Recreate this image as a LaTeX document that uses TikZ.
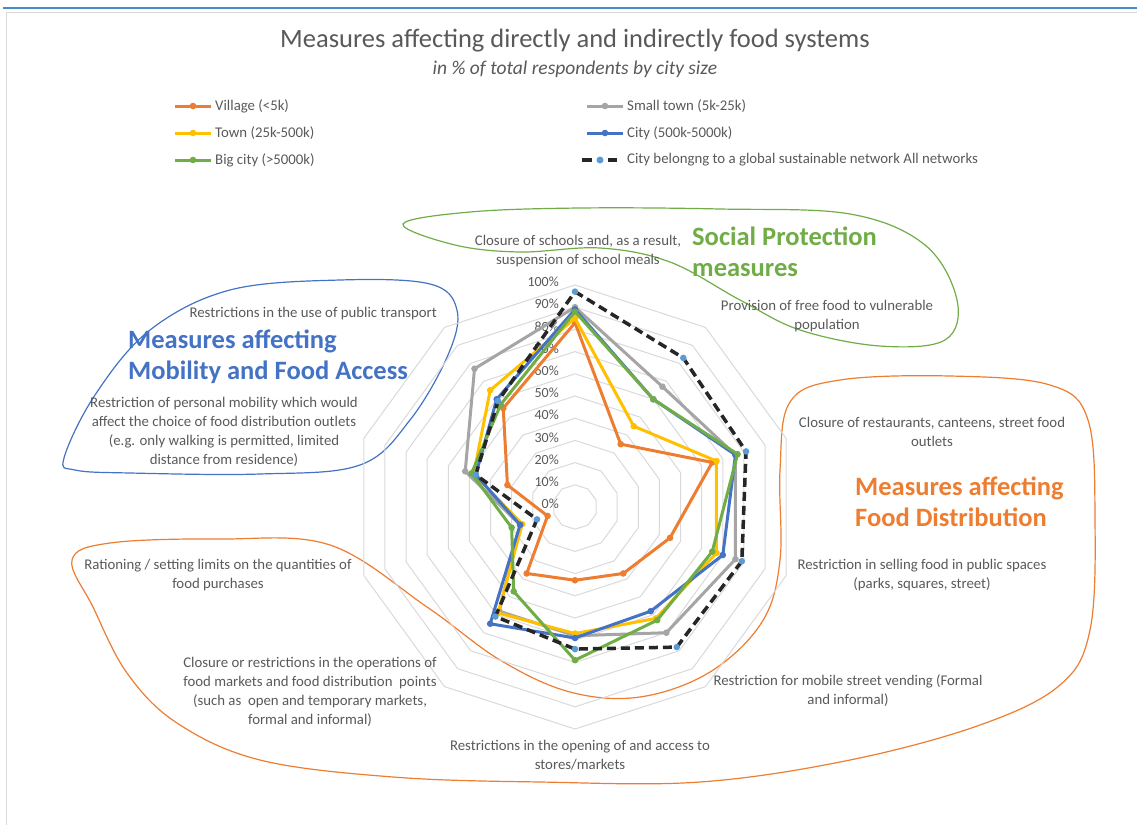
\documentclass[tikz,border=0pt]{standalone}
\usepackage{fontspec}
\setmainfont{Carlito}
\usetikzlibrary{positioning}

\definecolor{txtgray}{RGB}{89,89,89}
\definecolor{ringgray}{RGB}{217,217,217}
\definecolor{xlorange}{RGB}{237,125,49}
\definecolor{xlgray}{RGB}{165,165,165}
\definecolor{xlyellow}{RGB}{255,192,0}
\definecolor{xlblue}{RGB}{68,114,196}
\definecolor{xlgreen}{RGB}{112,173,71}
\definecolor{xllightblue}{RGB}{91,155,213}
\definecolor{dashblack}{RGB}{38,38,38}
\definecolor{topblue}{RGB}{70,140,200}

\tikzset{
  charttitle/.style={text=txtgray, font=\fontsize{26.5}{30}\selectfont, inner sep=0pt},
  chartsub/.style={text=txtgray, font=\fontsize{19.5}{22}\selectfont\itshape, inner sep=0pt},
  legtext/.style={text=txtgray, font=\fontsize{14.8}{17}\selectfont, anchor=west, inner sep=0pt},
  axlabel/.style={text=txtgray, font=\fontsize{14.8}{18.8}\selectfont, align=center, inner sep=0pt},
  pctlabel/.style={text=txtgray, font=\fontsize{14}{16}\selectfont, anchor=east, inner sep=0pt},
  grouptitle/.style={font=\fontsize{26.5}{31}\selectfont\bfseries, align=left, anchor=west, inner sep=0pt},
  ring/.style={draw=ringgray, line width=1pt},
  blob/.style={line width=1.2pt},
  series/.style={line width=3pt, line join=round},
  network/.style={draw=dashblack, line width=3.5pt, dash pattern=on 9pt off 5pt},
}

% one radar line: #1 line colour, #2 marker colour, #3 first value, #4 the others
\newcommand\radarseries[4]{%
  \draw[series, #1] (90:#3*2.22) \foreach \v [count=\i] in {#4} { -- (90-36*\i:\v*2.22) } -- cycle;
  \foreach \v [count=\i from 0] in {#3,#4} \fill[#2] (90-36*\i:\v*2.22) circle (3.3);
}

\begin{document}
\begin{tikzpicture}[x=1pt, y=-1pt]
  \useasboundingbox (0,0) rectangle (1137,825);
  \draw[topblue, line width=1.2pt] (3,8) -- (1137,8);
  \draw[ringgray, line width=1pt] (6,825) -- (6,12) -- (1137,12);

  \node[charttitle] (title) at (575,41) {Measures affecting directly and indirectly food systems};
  \node[chartsub, below=8pt of title] (subtitle) {in \% of total respondents by city size};

  % legend
  \node[legtext] (lvill) at (215,106) {Village (<5k)};
  \node[legtext] (ltown) at (215,133) {Town (25k-500k)};
  \node[legtext] (lbig)  at (215,160) {Big city (>5000k)};
  \node[legtext] (lsmall) at (627,106) {Small town (5k-25k)};
  \node[legtext] (lcity) at (627,133) {City (500k-5000k)};
  \node[legtext] (lnet)  at (627,160) {City belongng to a global sustainable network All networks};
  \foreach \n/\c in {lvill/xlorange, ltown/xlyellow, lbig/xlgreen, lsmall/xlgray, lcity/xlblue} {
    \draw[series, draw=\c] ([xshift=-40pt]\n.west) -- ([xshift=-4pt]\n.west);
    \fill[\c] ([xshift=-22pt]\n.west) circle (3.3);
  }
  \draw[network, dash pattern=] ([xshift=-45pt]lnet.west) -- ([xshift=-35pt]lnet.west)
    ([xshift=-19pt]lnet.west) -- ([xshift=-10pt]lnet.west);
  \fill[xllightblue] ([xshift=-27pt]lnet.west) circle (3.5);

  % group outlines
  \draw[blob, xlgreen] plot[smooth cycle, tension=0.6] coordinates {(403,224) (470,212) (580,208) (720,209)
    (850,214) (925,245) (957,300) (945,340) (880,346) (800,330) (740,300) (670,262) (600,248) (520,252) (455,245)};
  \draw[blob, xlblue] plot[smooth cycle, tension=0.6] coordinates {(64,458) (95,395) (150,330) (230,290)
    (340,280) (430,284) (457,310) (448,355) (410,420) (360,465) (260,474) (130,473) (75,470)};
  \draw[blob, xlorange] plot[smooth cycle, tension=0.6] coordinates {(790,402) (840,380) (950,376) (1050,385)
    (1088,420) (1095,520) (1090,630) (1060,685) (980,725) (850,760) (700,782) (540,782) (393,777) (260,760)
    (177,723) (127,673) (93,607) (72,560) (110,543) (220,539) (330,545) (427,607) (500,660) (570,692)
    (640,697) (710,672) (762,622) (780,560) (780,470)};

  % radar
  \begin{scope}[shift={(575,507)}, y=1pt]
    \foreach \k in {1,...,10}
      \draw[ring] (90:\k*22.2) \foreach \a in {1,...,9} { -- (90-36*\a:\k*22.2) } -- cycle;
    \foreach \k in {0,...,10} {
      \pgfmathtruncatemacro\p{\k*10}
      \node[pctlabel] (pct\k) at (-16,\k*22.2+3) {\p\%};
    }
    \radarseries{draw=xlorange}{xlorange}{83}{35,65,45,37,33,37,13,32,55}
    \radarseries{draw=xlgray}{xlgray}{90}{67,76,76,70,58,58,26,52,77}
    \radarseries{draw=xlyellow}{xlyellow}{85}{45,67,67,62,57,59,25,48,65}
    \radarseries{draw=xlblue}{xlblue}{89}{60,76,70,58,59,65,26,47,60}
    \radarseries{draw=xlgreen}{xlgreen}{88}{60,77,65,63,69,47,30,49,57}
    \radarseries{network}{xllightblue}{97}{83,81,79,78,64,61,18,47,59}
  \end{scope}

  % category labels
  \node[axlabel] (schools) at (578,251) {Closure of schools and, as a result,\\suspension of school meals};
  \node[axlabel] (freefood) at (827,316) {Provision of free food to vulnerable\\population};
  \node[axlabel] (restaurants) at (932,432) {Closure of restaurants, canteens, street food\\outlets};
  \node[axlabel] (publicsp) at (922,575) {Restriction in selling food in public spaces\\(parks, squares, street)};
  \node[axlabel] (vending) at (848,691) {Restriction for mobile street vending (Formal\\and informal)};
  \node[axlabel] (stores) at (580,755) {Restrictions in the opening of and access to\\stores/markets};
  \node[axlabel] (markets) at (310,692) {Closure or restrictions in the operations of\\food markets and food distribution\ \ points\\(such as\ \ open and temporary markets,\\formal and informal)};
  \node[axlabel] (rationing) at (218,575) {Rationing / setting limits on the quantities of\\food purchases};
  \node[axlabel] (mobility) at (224,432) {Restriction of personal mobility which would\\affect the choice of food distribution outlets\\(e.g. only walking is permitted, limited\\distance from residence)};
  \node[axlabel, anchor=east] (transport) at (437,314) {Restrictions in the use of public transport};

  % group titles
  \node[grouptitle, text=xlgreen] (socialtitle) at (692,252) {Social Protection\\measures};
  \node[grouptitle, text=xlblue] (mobtitle) at (128,357) {Measures affecting\\Mobility and Food Access};
  \node[grouptitle, text=xlorange] (disttitle) at (855,502) {Measures affecting\\Food Distribution};
\end{tikzpicture}
\end{document}
